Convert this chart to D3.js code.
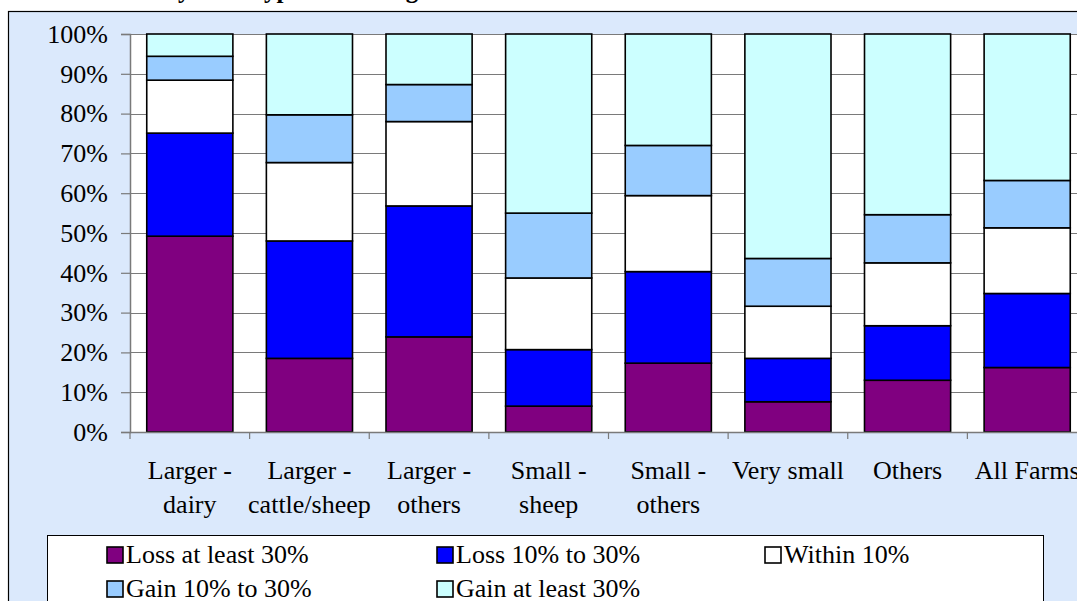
<!DOCTYPE html>
<html>
<head>
<meta charset="utf-8">
<script src="https://cdn.jsdelivr.net/npm/d3@7"></script>
<style>
  html, body { margin: 0; padding: 0; background: #ffffff; }
  svg { display: block; }
</style>
</head>
<body>
<svg id="chart" width="1077" height="601"></svg>
<script>
// ---- data ----
const categories = [
  ["Larger -", "dairy"],
  ["Larger -", "cattle/sheep"],
  ["Larger -", "others"],
  ["Small -", "sheep"],
  ["Small -", "others"],
  ["Very small"],
  ["Others"],
  ["All Farms"]
];
const seriesNames = ["Loss at least 30%", "Loss 10% to 30%", "Within 10%", "Gain 10% to 30%", "Gain at least 30%"];
const lossAtLeast30 = [49.2, 18.5, 23.9, 6.5, 17.3, 7.6, 13.0, 16.2];
const loss10to30    = [25.9, 29.5, 32.9, 14.2, 23.0, 10.9, 13.7, 18.6];
const within10      = [13.3, 19.7, 21.2, 18.0, 19.1, 13.1, 15.8, 16.5];
const gain10to30    = [6.0, 12.0, 9.3, 16.3, 12.6, 12.0, 12.1, 11.9];
const gainAtLeast30 = [5.6, 20.3, 12.7, 45.0, 28.0, 56.4, 45.4, 36.8];
const yTicks = [0, 10, 20, 30, 40, 50, 60, 70, 80, 90, 100];
const seriesColors = ["#800080", "#0000ff", "#ffffff", "#99ccff", "#ccffff"];
const titleText = "Distribution of farms by farm type and change in income";

const FONT = "'Liberation Serif', 'Times New Roman', serif";
const seriesValues = [lossAtLeast30, loss10to30, within10, gain10to30, gainAtLeast30];
const catKeys = categories.map(c => c.join(" "));
const rows = catKeys.map((k, i) => {
  const r = { cat: k };
  seriesNames.forEach((s, j) => r[s] = seriesValues[j][i]);
  return r;
});
const stacked = d3.stack().keys(seriesNames)(rows);

// ---- layout ----
const svg = d3.select("#chart");
const plot = { left: 130, top: 34, bottom: 432, right: 1087 };

// outer chart area
svg.append("rect").attr("x", 8.5).attr("y", 11.5).attr("width", 1100).attr("height", 650)
  .attr("fill", "#dbe9fc").attr("stroke", "#000").attr("stroke-width", 1.2);

// title (mostly cropped above the view)
const title = svg.append("text").attr("y", -2).style("font-family", FONT)
  .style("font-size", "25px").style("font-weight", "bold").attr("fill", "#000").text(titleText);
try {
  const pre = title.node().getSubStringLength(0, titleText.indexOf("by"));
  title.attr("x", 164 - pre);
} catch (e) { title.attr("x", 10); }

const x = d3.scaleBand().domain(catKeys).range([plot.left, plot.right])
  .paddingInner(0.28).paddingOuter(0.14);
const y = d3.scaleLinear().domain([0, 100]).range([plot.bottom, plot.top]);

// plot area
svg.append("rect").attr("x", plot.left).attr("y", plot.top)
  .attr("width", plot.right - plot.left).attr("height", plot.bottom - plot.top)
  .attr("fill", "#ffffff");

// gridlines
svg.append("g").selectAll("line").data(yTicks.filter(t => t > 0)).join("line")
  .attr("x1", plot.left).attr("x2", plot.right)
  .attr("y1", d => Math.round(y(d)) + 0.5).attr("y2", d => Math.round(y(d)) + 0.5)
  .attr("stroke", "#7a7a7a").attr("stroke-width", 1.2);

// bars
svg.append("g").selectAll("g").data(stacked).join("g")
  .attr("fill", (d, i) => seriesColors[i])
  .selectAll("rect").data(d => d).join("rect")
  .attr("x", d => x(d.data.cat))
  .attr("width", x.bandwidth())
  .attr("y", d => y(d[1]))
  .attr("height", d => y(d[0]) - y(d[1]))
  .attr("stroke", "#000").attr("stroke-width", 1.6);

// y axis
const yAxis = d3.axisLeft(y).tickValues(yTicks).tickFormat(d => d + "%").tickSize(9).tickPadding(13);
const gy = svg.append("g").attr("transform", `translate(${plot.left},0)`).call(yAxis);
gy.select(".domain").attr("stroke", "#7a7a7a").attr("stroke-width", 1.5);
gy.selectAll(".tick line").attr("stroke", "#7a7a7a").attr("stroke-width", 1.2);
gy.selectAll(".tick text").style("font-size", "26px").style("font-family", FONT).attr("fill", "#000");

// x axis baseline and ticks
svg.append("line").attr("x1", plot.left).attr("x2", plot.right)
  .attr("y1", plot.bottom + 0.5).attr("y2", plot.bottom + 0.5)
  .attr("stroke", "#7a7a7a").attr("stroke-width", 1.5);
const step = x.step();
const boundaries = catKeys.map(k => x(k) - x.paddingInner() * step / 2);
svg.append("g").selectAll("line").data(boundaries).join("line")
  .attr("x1", d => d).attr("x2", d => d)
  .attr("y1", plot.bottom).attr("y2", plot.bottom + 7)
  .attr("stroke", "#7a7a7a").attr("stroke-width", 1.2);

// category labels
const cl = svg.append("g").selectAll("text").data(categories).join("text")
  .attr("text-anchor", "middle").style("font-size", "26px").style("font-family", FONT).attr("fill", "#000")
  .attr("x", (d, i) => x(catKeys[i]) + x.bandwidth() / 2)
  .attr("y", 479);
cl.selectAll("tspan").data(d => d).join("tspan")
  .attr("x", function () { return d3.select(this.parentNode).attr("x"); })
  .attr("y", (d, i) => 479 + i * 34)
  .text(d => d);

// legend
svg.append("rect").attr("x", 47.5).attr("y", 535.5).attr("width", 996).attr("height", 120)
  .attr("fill", "#ffffff").attr("stroke", "#000").attr("stroke-width", 1);
const legendCols = [107, 437, 765];
const legendRows = [547, 581];
const lg = svg.append("g").selectAll("g").data(seriesNames).join("g")
  .attr("transform", (d, i) => `translate(${legendCols[i % 3]},${legendRows[Math.floor(i / 3)]})`);
lg.append("rect").attr("width", 16).attr("height", 16)
  .attr("fill", (d, i) => seriesColors[i]).attr("stroke", "#000").attr("stroke-width", 1.6);
lg.append("text").attr("x", 19).attr("y", 15.5).style("font-size", "26px").style("font-family", FONT)
  .attr("fill", "#000").text(d => d);
</script>
</body>
</html>
